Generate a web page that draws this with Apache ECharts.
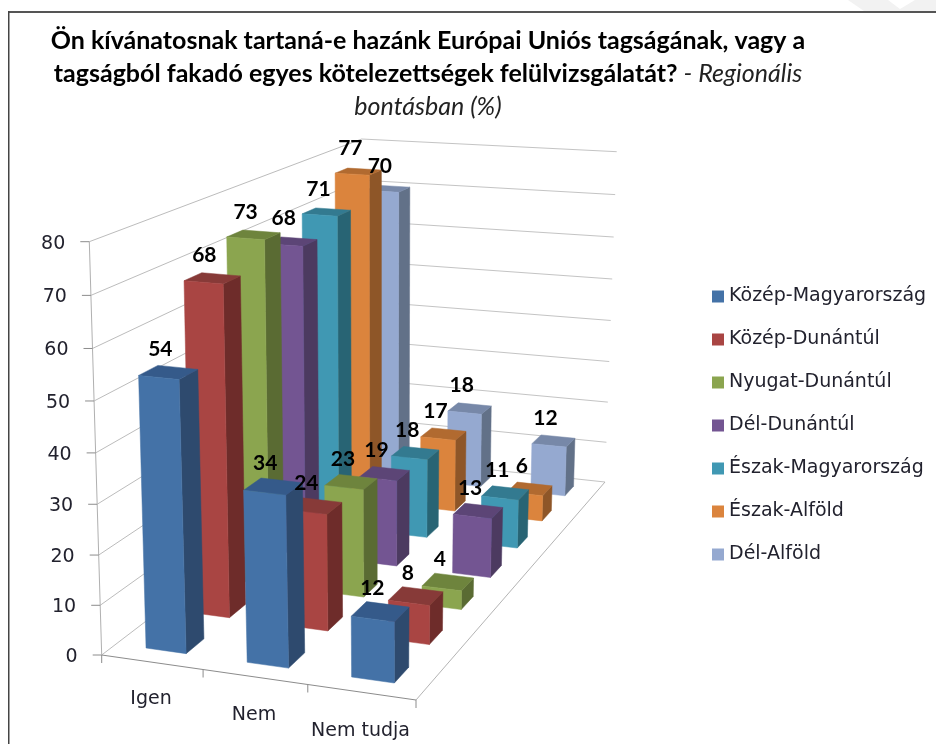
<!DOCTYPE html>
<html><head><meta charset="utf-8">
<style>html,body{margin:0;padding:0;background:#fff}#c{width:936px;height:744px}</style>
<script src="https://cdn.jsdelivr.net/npm/echarts@6/dist/echarts.min.js"></script>
</head><body><div id="c"></div>
<script>
const categories = ['Igen', 'Nem', 'Nem tudja'];
const seriesNames = ['Közép-Magyarország','Közép-Dunántúl','Nyugat-Dunántúl','Dél-Dunántúl','Észak-Magyarország','Észak-Alföld','Dél-Alföld'];
const kozepMagyarorszag = [54, 34, 12];
const kozepDunantul = [68, 24, 8];
const nyugatDunantul = [73, 23, 4];
const delDunantul = [68, 19, 13];
const eszakMagyarorszag = [71, 18, 11];
const eszakAlfold = [77, 17, 6];
const delAlfold = [70, 18, 12];
const seriesValues = [kozepMagyarorszag, kozepDunantul, nyugatDunantul, delDunantul, eszakMagyarorszag, eszakAlfold, delAlfold];
const valueTicks = [0,10,20,30,40,50,60,70,80];
const colors = {front:['#4472a7','#a94543','#8ba54f','#735592','#4098b3','#db843d','#95a9d0'],
  side:['#2e4a6e','#6e2c2a','#5a6b33','#4c3a60','#286474','#8e5628','#627188'],
  top:['#355a8a','#873a38','#6e843d','#5c4576','#337a90','#b16a30','#7788a8']};

// Scene corners of the 3D box, [front-left, front-right, back-right, back-left]
const floorC = [[101.7,655],[416,700],[605,482],[362,456]];
const roofC  = [[89.3,241.7],[419,270],[616.7,151.7],[361.7,139]];
const G = {left:101.7, top:241.7, width:314.3, height:413.3};
function homography(q){
  const [p0,p1,p2,p3]=q;
  const dx1=p1[0]-p2[0],dx2=p3[0]-p2[0],sx=p0[0]-p1[0]+p2[0]-p3[0];
  const dy1=p1[1]-p2[1],dy2=p3[1]-p2[1],sy=p0[1]-p1[1]+p2[1]-p3[1];
  const d=dx1*dy2-dx2*dy1;
  const g=(sx*dy2-dx2*sy)/d,h=(dx1*sy-sx*dy1)/d;
  const a=p1[0]-p0[0]+g*p1[0],b=p3[0]-p0[0]+h*p3[0],c=p0[0];
  const e=p1[1]-p0[1]+g*p1[1],f=p3[1]-p0[1]+h*p3[1],k=p0[1];
  return (s,t)=>{const w=g*s+h*t+1;return [(a*s+b*t+c)/w,(e*s+f*t+k)/w];};
}
const floorH=homography(floorC), roofH=homography(roofC);
function heightCurve(f){return f/(1+0.045*(1-f));}
function project(s,t,f){
  const a=floorH(s,t),b=roofH(s,t),h=heightCurve(f);
  return [a[0]+(b[0]-a[0])*h,a[1]+(b[1]-a[1])*h];
}
function fracOf(api,v){return (G.top+G.height-api.coord([0,v])[1])/G.height;}
function poly(points,fill){return {type:'polygon',shape:{points},style:{fill,stroke:fill,lineWidth:0.5}};}
function seg(a,b,stroke,w){return {type:'line',shape:{x1:a[0],y1:a[1],x2:b[0],y2:b[1]},style:{stroke,lineWidth:w||1}};}
const SANS='"DejaVu Sans", sans-serif';
const TITLE='Lato, "Open Sans", sans-serif';

function renderBar(row){
  return function(params,api){
    const i=api.value(0),v=api.value(1);
    const cx=api.coord([i,0])[0],bw=api.size([1,0])[0];
    const s0=(cx-0.2*bw-G.left)/G.width,s1=(cx+0.2*bw-G.left)/G.width;
    const t0=(row+0.3)/7,t1=(row+0.7)/7,f=fracOf(api,v);
    const A=project(s0,t0,0),B=project(s1,t0,0),C=project(s1,t1,0);
    const D=project(s0,t0,f),E=project(s1,t0,f),F=project(s1,t1,f),H=project(s0,t1,f);
    return {type:'group',children:[
      poly([B,C,F,E],colors.side[row]),
      poly([D,E,F,H],colors.top[row]),
      poly([A,B,E,D],colors.front[row])
    ]};
  };
}
function renderTick(params,api){
  const v=api.value(1),f=fracOf(api,v);
  const fl=project(0,0,f),bl=project(0,1,f),br=project(1,1,f);
  const kids=[seg(fl,bl,'#bcbcbc'),seg(bl,br,'#c4c4c4'),seg([fl[0]-9,fl[1]],fl,'#8c8c8c')];
  kids.push({type:'text',style:{text:String(v),x:fl[0]-24,y:fl[1]+2,align:'right',verticalAlign:'middle',font:'19px '+SANS,fill:'#22222e'}});
  if(v===0){
    kids.push(seg(project(0,0,0),project(1,0,0),'#8c8c8c'));
    kids.push(seg(project(1,0,0),project(1,1,0),'#b4b4b4'));
    kids.push(seg(project(0,0,0),project(0,0,1),'#b0b0b0'));
    kids.push(seg(fl,[fl[0],fl[1]+8],'#8c8c8c'));
  }
  return {type:'group',children:kids};
}
function renderCat(params,api){
  const i=api.value(0);
  const cx=api.coord([i,0])[0],bw=api.size([1,0])[0];
  const s1=(cx+bw/2-G.left)/G.width,sc=(cx-G.left)/G.width;
  const e=project(s1,0,0),m=project(sc,0,0);
  return {type:'group',children:[
    seg(e,[e[0],e[1]+8],'#8c8c8c'),
    {type:'text',style:{text:categories[i],x:m[0]-1,y:m[1]+37+i,align:'center',verticalAlign:'middle',font:'19px '+SANS,fill:'#22222e'}}
  ]};
}
function renderLabel(params,api){
  const i=api.value(0),v=api.value(1),row=api.value(2);
  const cx=api.coord([i,0])[0];
  const p=project((cx-G.left)/G.width,(row+0.5)/7,fracOf(api,v));
  return {type:'text',style:{text:String(v),x:p[0]-8,y:p[1]-23,align:'center',verticalAlign:'middle',font:'bold 21px '+TITLE,fill:'#000'}};
}

const series=[
 {type:'custom',name:'_ticks',silent:true,z:1,clip:false,data:valueTicks.map(v=>[0,v]),renderItem:renderTick},
 {type:'custom',name:'_cats',silent:true,z:1,clip:false,data:categories.map((c,i)=>[i,0]),renderItem:renderCat}
];
for(let j=6;j>=0;j--){
  series.push({type:'custom',name:seriesNames[j],z:2,clip:false,itemStyle:{color:colors.front[j]},
    data:seriesValues[j].map((v,i)=>[i,v]),renderItem:renderBar(j)});
}
const labelData=[];
seriesValues.forEach((vals,j)=>vals.forEach((v,i)=>labelData.push([i,v,j])));
series.push({type:'custom',name:'_labels',silent:true,z:3,clip:false,data:labelData,renderItem:renderLabel});

const chart=echarts.init(document.getElementById('c'),null,{renderer:'canvas'});
chart.setOption({
  animation:false,
  backgroundColor:'#fff',
  title:{
    left:428,textAlign:'center',top:24,padding:0,
    text:'{b|Ön kívánatosnak tartaná-e hazánk Európai Uniós tagságának, vagy a}\n{b|tagságból fakadó egyes kötelezettségek felülvizsgálatát? }{i|- Regionális}\n{i|bontásban (%)}',
    textStyle:{rich:{
      b:{fontFamily:'Lato',fontWeight:'bold',fontSize:25,color:'#000',lineHeight:33},
      i:{fontFamily:'Lato',fontStyle:'italic',fontWeight:'normal',fontSize:25,color:'#222',lineHeight:33}
    }}
  },
  legend:{
    orient:'vertical',left:712,top:286,padding:0,itemWidth:12,itemHeight:12,itemGap:22,
    data:seriesNames,icon:'rect',itemStyle:{borderWidth:0},
    textStyle:{fontFamily:'DejaVu Sans',fontSize:19,color:'#22222e',lineHeight:21}
  },
  grid:{left:G.left,top:G.top,width:G.width,height:G.height},
  xAxis:{type:'category',data:categories,show:false},
  yAxis:{type:'value',min:0,max:80,interval:10,show:false},
  graphic:[
    {type:'polygon',silent:true,z:0,shape:{points:[[848,0],[864,11],[936,11],[936,0],[915,0],[900,9],[888,0]]},style:{fill:'#f2f2f2'}},
    {type:'rect',silent:true,z:0,shape:{x:8,y:11,width:928,height:2},style:{fill:'#555'}},
    {type:'rect',silent:true,z:0,shape:{x:8,y:11,width:1.5,height:733},style:{fill:'#444'}}
  ],
  series
});
</script></body></html>
